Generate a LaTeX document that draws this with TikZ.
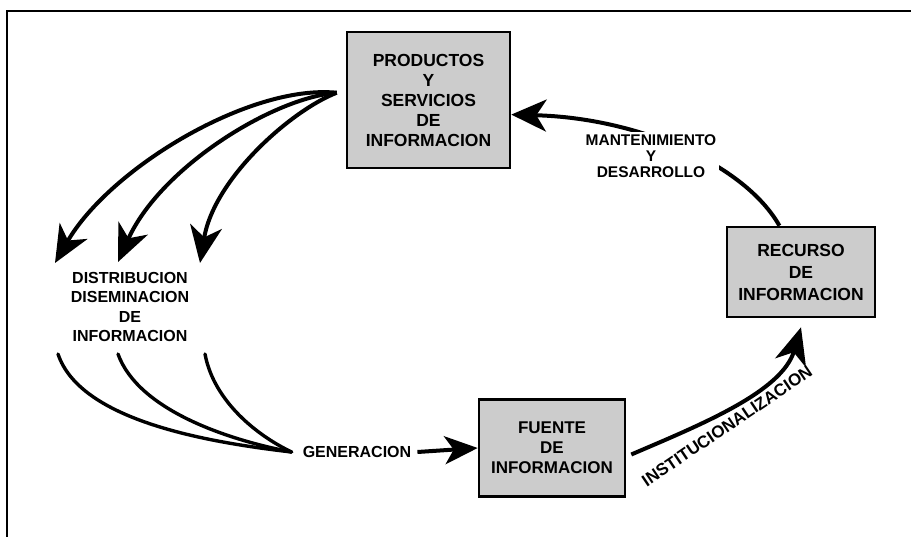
\documentclass[tikz,border=0pt]{standalone}
\usepackage{fontspec}
\setmainfont{Liberation Sans}
\newfontfamily\heavy{Liberation Sans Bold}
\usetikzlibrary{arrows.meta}

\begin{document}
\begin{tikzpicture}[x=1pt,y=-1pt,
  box/.style={draw=black, line width=2.6pt, fill=black!20, align=center,
    inner sep=0pt, font=\heavy\fontsize{17.5}{20}\selectfont},
  lbl/.style={align=center, inner sep=2pt, font=\heavy\fontsize{16}{19.5}\selectfont},
  bigtip/.style={-{Stealth[length=37pt,width=32pt,inset=11pt]}},
  flow/.style={line width=4pt, bigtip},
  tail/.style={line width=3.4pt, line cap=round}]

\useasboundingbox (0,0) rectangle (911,537);

% page frame (top and left rules)
\draw[line width=2.4pt] (7,537) -- (7,11) -- (911,11);

% boxes
\node[box, minimum width=163pt, minimum height=136pt] (prod) at (428.5,100)
  {PRODUCTOS\\Y\\SERVICIOS\\DE\\INFORMACION};
\node[box, minimum width=148pt, minimum height=90pt,
  font=\heavy\fontsize{17.5}{22}\selectfont] (rec) at (801,272)
  {RECURSO\\DE\\INFORMACION};
\node[box, minimum width=146pt, minimum height=97pt,
  font=\heavy\fontsize{17}{20}\selectfont] (fuente) at (552,448)
  {FUENTE\\DE\\INFORMACION};

% free labels
\node[lbl] (dist) at (130,307) {DISTRIBUCION\\DISEMINACION\\DE\\INFORMACION};
\node[lbl] (gen) at (357,452) {GENERACION};

% arrow tips on the left and the starts of the tails
\coordinate (d1) at (55,263);
\coordinate (d2) at (118,262);
\coordinate (d3) at (200,263);
\coordinate (b1) at (58,354);
\coordinate (b2) at (118,354);
\coordinate (b3) at (205,354);
\coordinate (join) at ([xshift=-9pt]gen.west);

% distribution arrows out of the products box
\draw[flow] ([xshift=-9pt]prod.175) .. controls (250,84) and (110,168) .. (d1);
\draw[flow] ([xshift=-9pt]prod.175) .. controls (272,98) and (160,168) .. (d2);
\draw[flow] ([xshift=-9pt]prod.175) .. controls (292,110) and (214,178) .. (d3);

% tails converging on generation
\draw[tail] (b1) .. controls (80,420) and (205,442) .. (join);
\draw[tail] (b2) .. controls (138,410) and (228,440) .. (join);
\draw[tail] (b3) .. controls (214,402) and (258,436) .. (join);

% generation -> source
\draw[line width=4pt, -{Stealth[length=33pt,width=28pt,inset=9pt]}]
  ([xshift=4pt]gen.east) -- (fuente.west);

% source -> resource
\draw[flow] ([xshift=5pt]fuente.-5) .. controls (700,425) and (782,392) .. ([yshift=-9pt]rec.south);
\node[lbl, rotate=34, inner sep=0pt, font=\heavy\fontsize{17}{17}\selectfont]
  (inst) at (727,426) {INSTITUCIONALIZACION};

% resource -> products
\draw[line width=4pt, -{Stealth[length=35pt,width=32pt,inset=10pt]}]
  (rec.115) .. controls (745,165) and (640,118) .. (prod.-10);
\node[lbl, fill=white, inner sep=3pt, font=\heavy\fontsize{15.5}{16}\selectfont]
  (mant) at (651,156) {MANTENIMIENTO\\Y\\DESARROLLO};
\end{tikzpicture}
\end{document}
